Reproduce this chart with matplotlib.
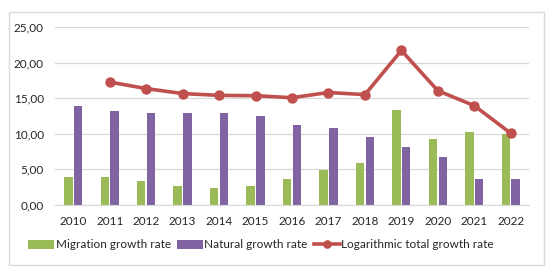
import numpy as np
import matplotlib.pyplot as plt
from matplotlib.patches import Rectangle

plt.rcParams['font.family'] = ['Lato', 'DejaVu Sans']

years = ['2010', '2011', '2012', '2013', '2014', '2015', '2016',
         '2017', '2018', '2019', '2020', '2021', '2022']
migration = [3.95, 3.95, 3.37, 2.7, 2.4, 2.7, 3.65, 4.9, 5.9, 13.4, 9.2, 10.2, 10.0]
natural = [13.9, 13.2, 12.9, 12.9, 12.95, 12.55, 11.3, 10.8, 9.55, 8.1, 6.75, 3.65, 3.65]
total_years = years[1:]
total = [17.27, 16.35, 15.65, 15.4, 15.35, 15.07, 15.8, 15.5, 21.7, 16.05, 13.95, 10.07]

green = '#9BBB59'
purple = '#8064A2'
red = '#C0504D'

fig = plt.figure(figsize=(5.53, 2.72), dpi=100)
# outer frame
fig.patches.append(Rectangle((9 / 553, 1 - 265 / 272), 535 / 553, 253 / 272,
                             transform=fig.transFigure, fill=False,
                             edgecolor='#D9D9D9', linewidth=1))

ax = fig.add_axes([55 / 553, 1 - 205 / 272, 474 / 553, 178 / 272])
x = np.arange(len(years))
w = 0.23
b1 = ax.bar(x - w / 2 - 0.02, migration, width=w, color=green, label='Migration growth rate', zorder=2)
b2 = ax.bar(x + w / 2 + 0.02, natural, width=w, color=purple, label='Natural growth rate', zorder=2)
xt = np.arange(1, len(years))
l1, = ax.plot(xt, total, color=red, linewidth=2.6, marker='o', markersize=6.5,
              label='Logarithmic total growth rate', zorder=3)

ax.set_xlim(-0.5, len(years) - 0.5)
ax.set_ylim(0, 25)
ax.set_yticks(np.arange(0, 26, 5))
ax.set_yticklabels([f'{v:.2f}'.replace('.', ',') for v in np.arange(0, 26, 5)])
ax.set_xticks(x)
ax.set_xticklabels(years)
ax.grid(axis='y', color='#D9D9D9', linewidth=0.9, zorder=0)
ax.set_axisbelow(True)
for s in ['top', 'right', 'left']:
    ax.spines[s].set_visible(False)
ax.spines['bottom'].set_color('#D9D9D9')
ax.tick_params(length=0, labelsize=8.5, colors='#262626')
ax.tick_params(axis='x', pad=8)
ax.tick_params(axis='y', pad=8)

leg = fig.legend([b1, b2, l1], [b1.get_label(), b2.get_label(), l1.get_label()],
                 loc='center', bbox_to_anchor=(261 / 553, 1 - 245 / 272), ncol=3, frameon=False,
                 fontsize=8.5, handlelength=2.2, handletextpad=0.15, columnspacing=0.5,
                 labelcolor='#262626', markerscale=0.8)

fig.savefig('out.png', dpi=100)
